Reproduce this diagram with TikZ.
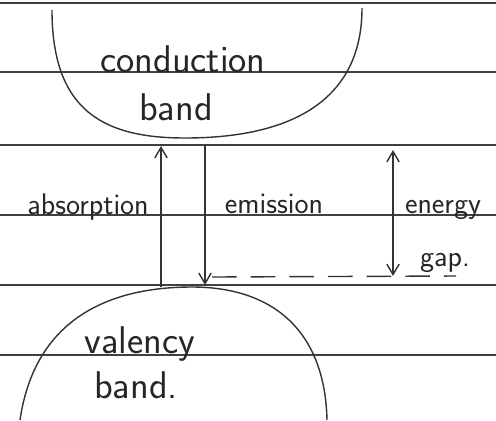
\documentclass[tikz,border=0pt]{standalone}
\usetikzlibrary{arrows.meta}

\begin{document}
\begin{tikzpicture}[x=0.02cm, y=-0.02cm, >={Straight Barb[length=6pt,width=7pt]},
    rule/.style={black!75, line width=0.9pt},
    ink/.style={black!80, line width=0.8pt},
    bigtxt/.style={anchor=base, black!85, font=\sffamily\fontsize{22}{26}\selectfont},
    smalltxt/.style={anchor=base, black!85, font=\sffamily\fontsize{17}{20}\selectfont}]
  \useasboundingbox (0,0) rectangle (496,420);

  % Ruled paper
  \foreach \ry in {3,72,145,215,285,355} {
    \draw[rule] (0,\ry) -- (496,\ry);
  }

  % Conduction band
  \draw[ink] (52,10) .. controls (52,112) and (105,138) .. (185,138)
    .. controls (292,138) and (362,100) .. (362,8);
  \node[bigtxt] (cond) at (183,72) {conduction};
  \node[bigtxt] (condband) at (176,120) {band};

  % Valency band
  \draw[ink] (20,420) .. controls (35,318) and (110,287) .. (192,287)
    .. controls (272,287) and (325,330) .. (327,420);
  \node[bigtxt] (val) at (140,353) {valency};
  \node[bigtxt] (valband) at (136,398) {band.};

  % Transitions
  \coordinate (absfrom) at (161,287);
  \coordinate (absto) at (161,146);
  \coordinate (emfrom) at (205,146);
  \coordinate (emto) at (205,285);
  \draw[ink,->] (absfrom) -- (absto);
  \draw[ink,->] (emfrom) -- (emto);
  \node[smalltxt] (abs) at (88,214) {absorption};
  \node[smalltxt] (em) at (274,213) {emission};

  % Energy gap
  \coordinate (gaptop) at (393,150);
  \coordinate (gapbot) at (393,276);
  \coordinate (dashfrom) at (212,277);
  \coordinate (dashto) at (456,276);
  \draw[ink,<->] (gapbot) -- (gaptop);
  \draw[ink, dash pattern=on 14pt off 8pt] (dashfrom) -- (dashto);
  \node[smalltxt] (energy) at (443,213) {energy};
  \node[smalltxt] (gap) at (445,266) {gap.};
\end{tikzpicture}
\end{document}
